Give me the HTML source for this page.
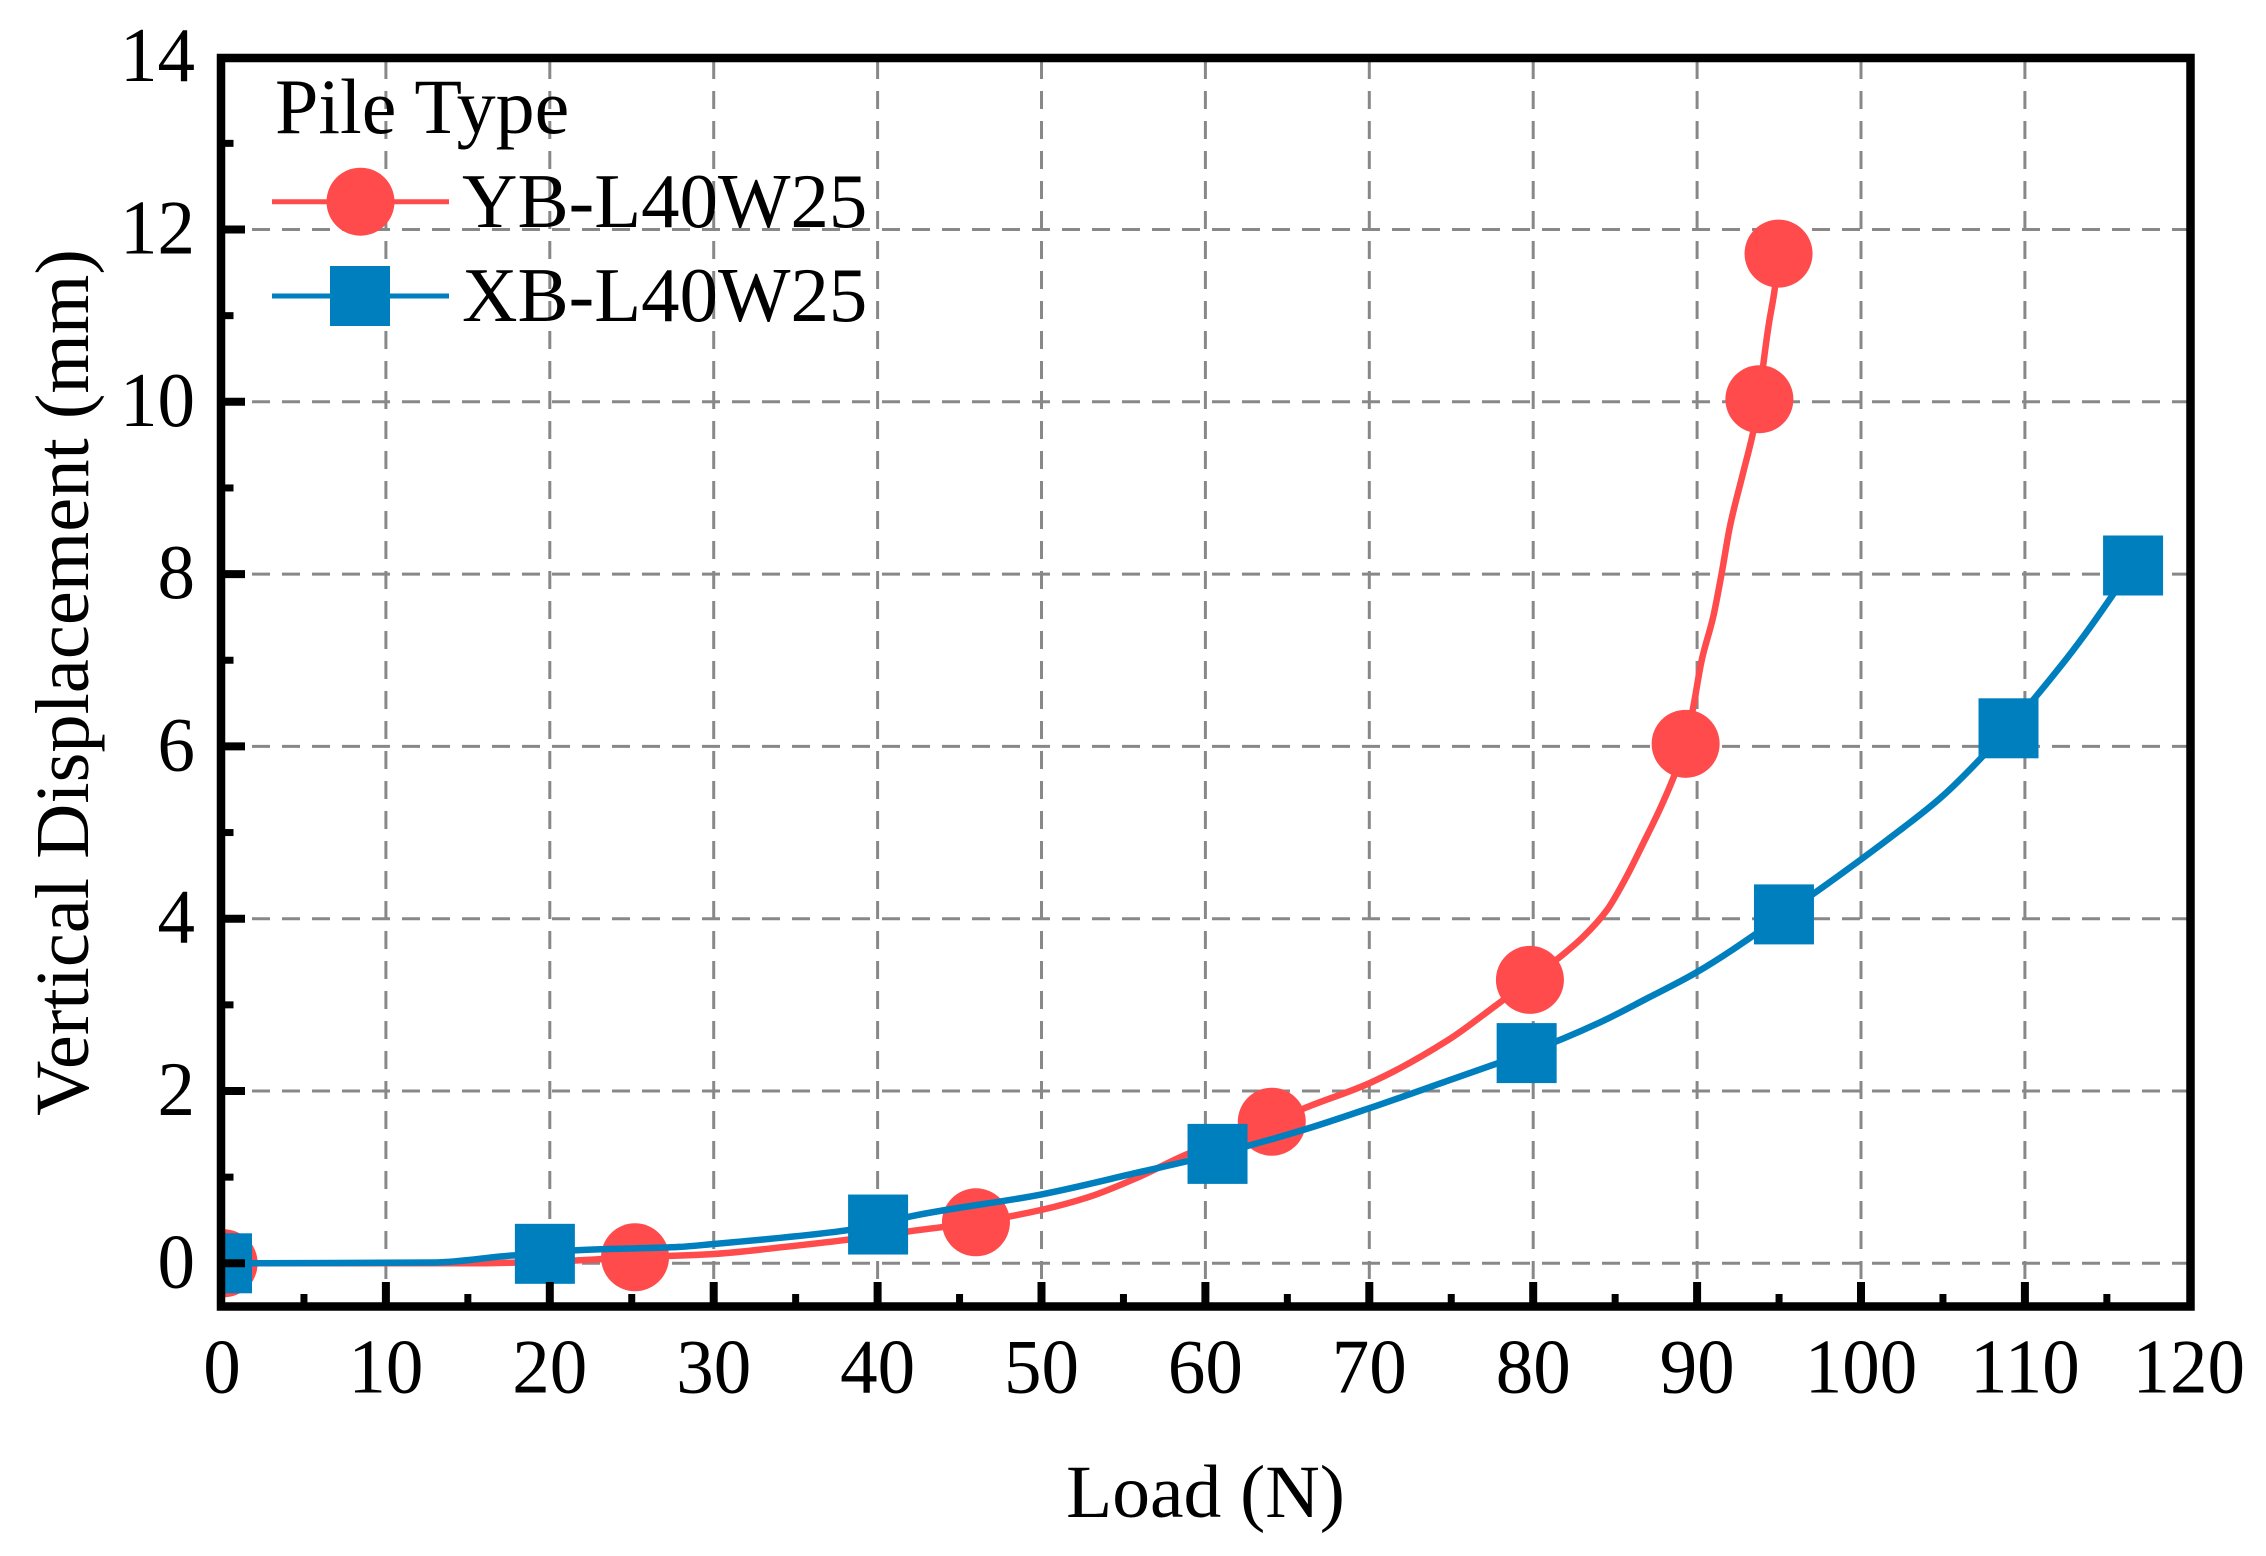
<!DOCTYPE html>
<html lang="en">
<head>
<meta charset="utf-8">
<title>Load vs Vertical Displacement</title>
<style>
html,body{margin:0;padding:0;background:#fff;}
svg{display:block;}
text{font-family:"Liberation Serif",serif;fill:#000;}
</style>
</head>
<body>
<svg id="chart" xmlns="http://www.w3.org/2000/svg" width="2266" height="1556" viewBox="0 0 2266 1556">
  <rect x="0" y="0" width="2266" height="1556" fill="#fff"/>
  <defs>
    <clipPath id="plot-clip"><rect x="222" y="58" width="1968.5" height="1248.5"/></clipPath>
  </defs>
  <g id="grid"></g>
  <g id="series" clip-path="url(#plot-clip)"></g>
  <g id="axes"></g>
  <g>
    <text x="275" y="133" font-size="78">Pile Type</text>
    <g>
      <line x1="272" y1="201.7" x2="449" y2="201.7" stroke="#FF4B4B" stroke-width="5"/>
      <circle cx="360.5" cy="201.7" r="34" fill="#FF4B4B"/>
      <text x="462" y="227" font-size="76.8">YB-L40W25</text>
    </g>
    <g>
      <line x1="272" y1="296" x2="449" y2="296" stroke="#007FBF" stroke-width="5"/>
      <rect x="330" y="266" width="60" height="60" fill="#007FBF"/>
      <text x="462" y="321" font-size="76.8">XB-L40W25</text>
    </g>
  </g>
  <text x="1205.5" y="1517" font-size="75.5" text-anchor="middle">Load (N)</text>
  <text transform="translate(88 682.5) rotate(-90)" x="0" y="0" font-size="76.5" text-anchor="middle">Vertical Displacement (mm)</text>
</svg>
<script>
const loadTickLabels = [0, 10, 20, 30, 40, 50, 60, 70, 80, 90, 100, 110, 120];
const displacementTickLabels = [0, 2, 4, 6, 8, 10, 12, 14];
const loadMinorTicks = [5, 15, 25, 35, 45, 55, 65, 75, 85, 95, 105, 115];
const displacementMinorTicks = [1, 3, 5, 7, 9, 11, 13];
const ybLoad = [0.1, 15, 20, 25.2, 30, 34.3, 38, 41.9, 46.0, 50, 52.9, 55.8, 58.8, 64.05, 66.3, 70, 74.8, 77.7, 79.8, 81.4, 83.05, 84.5, 85.7, 86.7, 87.7, 88.5, 89.3, 89.77, 90.28, 90.99, 91.5, 92.0, 92.8, 93.4, 93.8, 94.05, 94.35, 94.76, 94.97];
const ybDisplacement = [0, 0, 0.02, 0.07, 0.108, 0.19, 0.27, 0.37, 0.476, 0.62, 0.77, 0.99, 1.26, 1.643, 1.82, 2.09, 2.59, 2.99, 3.29, 3.52, 3.79, 4.10, 4.49, 4.87, 5.26, 5.61, 6.03, 6.46, 7.0, 7.51, 8.01, 8.55, 9.17, 9.63, 10.03, 10.45, 10.87, 11.34, 11.72];
const ybMarkerPositions = [0, 3, 8, 13, 18, 26, 34, 38];
const xbLoad = [0, 13, 17.7, 19.7, 21.5, 27.9, 30, 34.3, 38, 40.03, 41.9, 50, 55.8, 60.74, 66, 70, 74.8, 77.8, 79.6, 84, 86.9, 89.9, 95.3, 102.4, 104.9, 109.0, 112.3, 113.7, 116.6];
const xbDisplacement = [0, 0.01, 0.09, 0.11, 0.15, 0.19, 0.224, 0.30, 0.38, 0.45, 0.54, 0.80, 1.05, 1.27, 1.55, 1.80, 2.12, 2.32, 2.44, 2.79, 3.07, 3.37, 4.05, 5.03, 5.41, 6.21, 6.96, 7.31, 8.10];
const xbMarkerPositions = [0, 3, 9, 13, 18, 22, 25, 28];

const NS = 'http://www.w3.org/2000/svg';
function xAxis(v) { return 222 + v * 16.39; }
function yAxis(v) { return 1263.3 - v * 86.15; }

function make(tag, parent, attrs) {
  const el = document.createElementNS(NS, tag);
  for (const k in attrs) el.setAttribute(k, attrs[k]);
  parent.appendChild(el);
  return el;
}

function monotonePath(xs, ys) {
  const n = xs.length;
  const d = [];
  const m = [];
  for (let i = 0; i < n - 1; i++) d.push((ys[i + 1] - ys[i]) / (xs[i + 1] - xs[i]));
  m[0] = d[0];
  m[n - 1] = d[n - 2];
  for (let i = 1; i < n - 1; i++) {
    if (d[i - 1] * d[i] <= 0) { m[i] = 0; continue; }
    const h0 = xs[i] - xs[i - 1];
    const h1 = xs[i + 1] - xs[i];
    const w0 = 2 * h1 + h0;
    const w1 = h1 + 2 * h0;
    m[i] = (w0 + w1) / (w0 / d[i - 1] + w1 / d[i]);
  }
  let p = 'M' + xs[0].toFixed(2) + ' ' + ys[0].toFixed(2);
  for (let i = 0; i < n - 1; i++) {
    const h = (xs[i + 1] - xs[i]) / 3;
    p += ' C' + (xs[i] + h).toFixed(2) + ' ' + (ys[i] + m[i] * h).toFixed(2) + ' ' +
      (xs[i + 1] - h).toFixed(2) + ' ' + (ys[i + 1] - m[i + 1] * h).toFixed(2) + ' ' +
      xs[i + 1].toFixed(2) + ' ' + ys[i + 1].toFixed(2);
  }
  return p;
}

const grid = document.getElementById('grid');
const series = document.getElementById('series');
const axes = document.getElementById('axes');

loadTickLabels.forEach(function (v) {
  if (v === 0 || v === 120) return;
  const line = make('line', grid, { x1: xAxis(v), x2: xAxis(v), y1: 61, y2: 1282, stroke: '#888', 'stroke-width': 3, 'stroke-dasharray': '18 12' });
  
  
});
displacementTickLabels.forEach(function (v) {
  if (v === 14) return;
  const line = make('line', grid, { x1: 252, x2: 2187, y1: yAxis(v), y2: yAxis(v), stroke: '#888', 'stroke-width': 3, 'stroke-dasharray': '18 12' });
  
  
});

const ybPath = monotonePath(ybLoad.map(xAxis), ybDisplacement.map(yAxis));
const ybLine = make('path', series, { d: ybPath, fill: 'none', stroke: '#FF4B4B', 'stroke-width': 6.5 });


ybMarkerPositions.forEach(function (i) {
  const dot = make('circle', series, { cx: xAxis(ybLoad[i]), cy: yAxis(ybDisplacement[i]), r: 34, fill: '#FF4B4B' });
  
  
});

const xbPath = monotonePath(xbLoad.map(xAxis), xbDisplacement.map(yAxis));
const xbLine = make('path', series, { d: xbPath, fill: 'none', stroke: '#007FBF', 'stroke-width': 6.5 });


xbMarkerPositions.forEach(function (i) {
  const sq = make('rect', series, { x: xAxis(xbLoad[i]) - 30, y: yAxis(xbDisplacement[i]) - 30, width: 60, height: 60, fill: '#007FBF' });
  
  
});

const frame = make('rect', axes, { x: 221, y: 58, width: 1969.5, height: 1248.5, fill: 'none', stroke: '#000', 'stroke-width': 8.5 });



loadTickLabels.forEach(function (v) {
  if (v !== 0 && v !== 120) {
    const tick = make('line', axes, { x1: xAxis(v), x2: xAxis(v), y1: 1303, y2: 1282, stroke: '#000', 'stroke-width': 8 });
    
    
  }
  const label = make('text', axes, { transform: 'translate(' + xAxis(v) + ' 1392.5) scale(1 1.03)', 'font-size': 75, 'text-anchor': 'middle' });
  label.textContent = String(v);
  
  
});
loadMinorTicks.forEach(function (v) {
  const tick = make('line', axes, { x1: xAxis(v), x2: xAxis(v), y1: 1303, y2: 1294, stroke: '#000', 'stroke-width': 7 });
  
  
});
displacementTickLabels.forEach(function (v) {
  if (v !== 14) {
    const tick = make('line', axes, { x1: 225, x2: 245, y1: yAxis(v), y2: yAxis(v), stroke: '#000', 'stroke-width': 8 });
    
    
  }
  const label = make('text', axes, { transform: 'translate(195 ' + (yAxis(v) + 24) + ') scale(1 1.03)', 'font-size': 75, 'text-anchor': 'end' });
  label.textContent = String(v);
  
  
});
displacementMinorTicks.forEach(function (v) {
  const tick = make('line', axes, { x1: 225, x2: 233.5, y1: yAxis(v), y2: yAxis(v), stroke: '#000', 'stroke-width': 7 });
  
  
});
</script>
</body>
</html>
